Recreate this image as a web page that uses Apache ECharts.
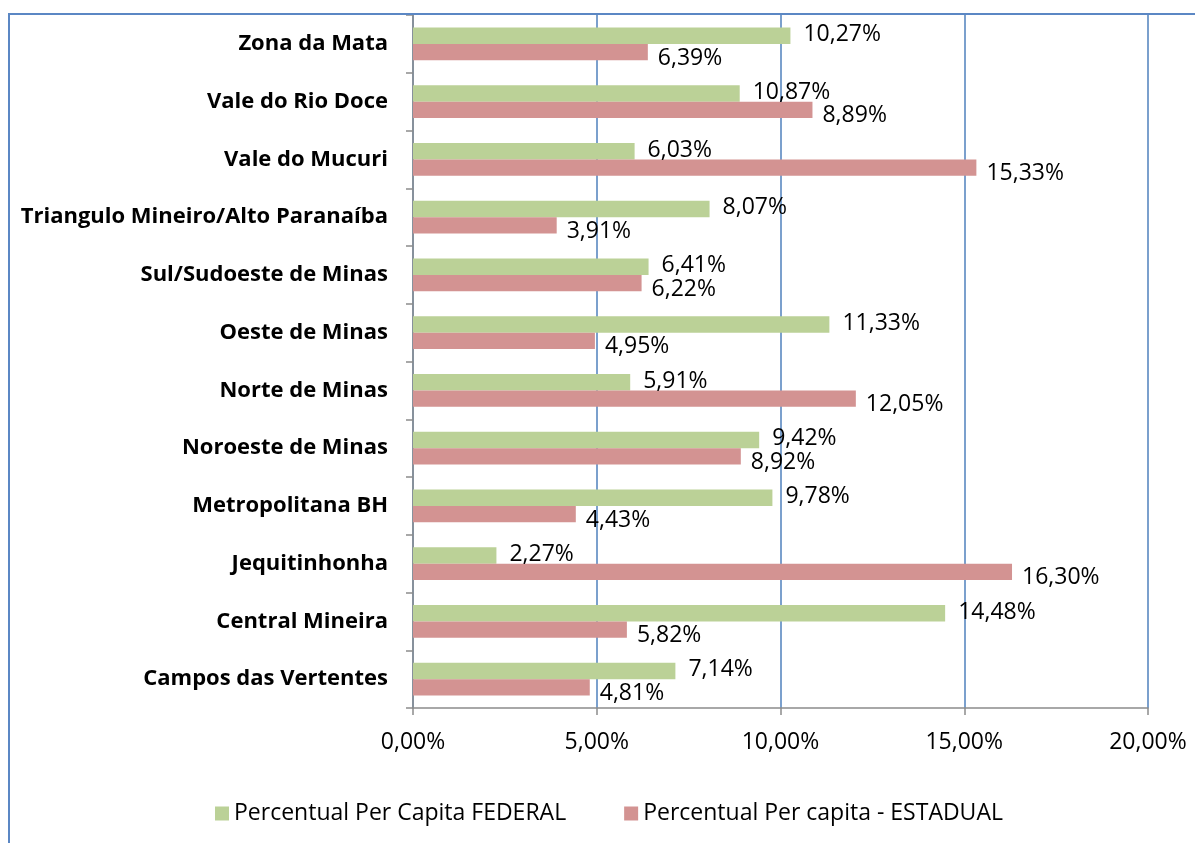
<!DOCTYPE html>
<html>
<head>
<meta charset="utf-8">
<script src="https://cdn.jsdelivr.net/npm/echarts@6/dist/echarts.min.js"></script>
<style>
html,body{margin:0;padding:0;background:#fff;}
#chart{width:1195px;height:843px;}
</style>
</head>
<body>
<div id="chart"></div>
<script>
// Categories listed bottom-to-top (as drawn on the category axis)
const categories = [
  'Campos das Vertentes', 'Central Mineira', 'Jequitinhonha', 'Metropolitana BH',
  'Noroeste de Minas', 'Norte de Minas', 'Oeste de Minas', 'Sul/Sudoeste de Minas',
  'Triangulo Mineiro/Alto Paranaíba', 'Vale do Mucuri', 'Vale do Rio Doce', 'Zona da Mata'
];
// Bar lengths (%)
const federalValues  = [7.14, 14.48, 2.27, 9.78, 9.42, 5.91, 11.33, 6.41, 8.07, 6.03, 8.89, 10.27];
const estadualValues = [4.81, 5.82, 16.30, 4.43, 8.92, 12.05, 4.95, 6.22, 3.91, 15.33, 10.87, 6.39];
// Data label texts as printed in the picture
const federalLabels  = ['7,14%', '14,48%', '2,27%', '9,78%', '9,42%', '5,91%', '11,33%', '6,41%', '8,07%', '6,03%', '10,87%', '10,27%'];
const estadualLabels = ['4,81%', '5,82%', '16,30%', '4,43%', '8,92%', '12,05%', '4,95%', '6,22%', '3,91%', '15,33%', '8,89%', '6,39%'];
const seriesNames = ['Percentual Per Capita FEDERAL', 'Percentual Per capita - ESTADUAL'];
const xTicks = { min: 0, max: 20, interval: 5 };

const FONT = '"Open Sans", "Noto Sans", sans-serif';
const chart = echarts.init(document.getElementById('chart'), null, { renderer: 'canvas' });

chart.setOption({
  animation: false,
  textStyle: { fontFamily: FONT, color: '#000' },
  graphic: [{
    type: 'rect', silent: true, z: 100,
    shape: { x: 9, y: 14, width: 1400, height: 1000 },
    style: { fill: 'none', stroke: '#5b87c4', lineWidth: 2 }
  }],
  grid: { left: 413, right: 47, top: 15, bottom: 135, containLabel: false },
  legend: {
    left: 210, top: 797,
    itemWidth: 14, itemHeight: 14, itemGap: 58,
    icon: 'rect',
    textStyle: { fontFamily: FONT, fontSize: 23, color: '#000', padding: [0, 0, 0, 0] },
    data: seriesNames
  },
  xAxis: {
    type: 'value', min: xTicks.min, max: xTicks.max, interval: xTicks.interval,
    axisLine: { show: true, lineStyle: { color: '#8c8c8c', width: 1.5 } },
    axisTick: { show: true, length: 7, lineStyle: { color: '#8c8c8c', width: 1.5 } },
    splitLine: { show: true, lineStyle: { color: '#4f81bd', width: 1.5 } },
    axisLabel: {
      fontFamily: FONT, fontSize: 23, color: '#000', margin: 23,
      formatter: v => v.toFixed(2).replace('.', ',') + '%'
    }
  },
  yAxis: {
    type: 'category', data: categories,
    axisLine: { show: true, lineStyle: { color: '#8c8c8c', width: 1.5 } },
    axisTick: { show: true, length: 7, lineStyle: { color: '#8c8c8c', width: 1.5 } },
    axisLabel: { fontFamily: FONT, fontSize: 22, fontWeight: 'bold', color: '#000', margin: 25 }
  },
  series: [
    {
      name: seriesNames[0], type: 'bar', data: federalValues,
      barGap: '0%', barCategoryGap: '43%',
      itemStyle: { color: '#bbd197' },
      label: {
        show: true, position: 'right', distance: 13, offset: [0, -1],
        fontFamily: FONT, fontSize: 23, color: '#000',
        formatter: p => federalLabels[p.dataIndex]
      }
    },
    {
      name: seriesNames[1], type: 'bar', data: estadualValues,
      barGap: '0%', barCategoryGap: '43%',
      itemStyle: { color: '#d39392' },
      label: {
        show: true, position: 'right', distance: 10, offset: [0, 6],
        fontFamily: FONT, fontSize: 23, color: '#000',
        formatter: p => estadualLabels[p.dataIndex]
      }
    }
  ]
});
</script>
</body>
</html>
